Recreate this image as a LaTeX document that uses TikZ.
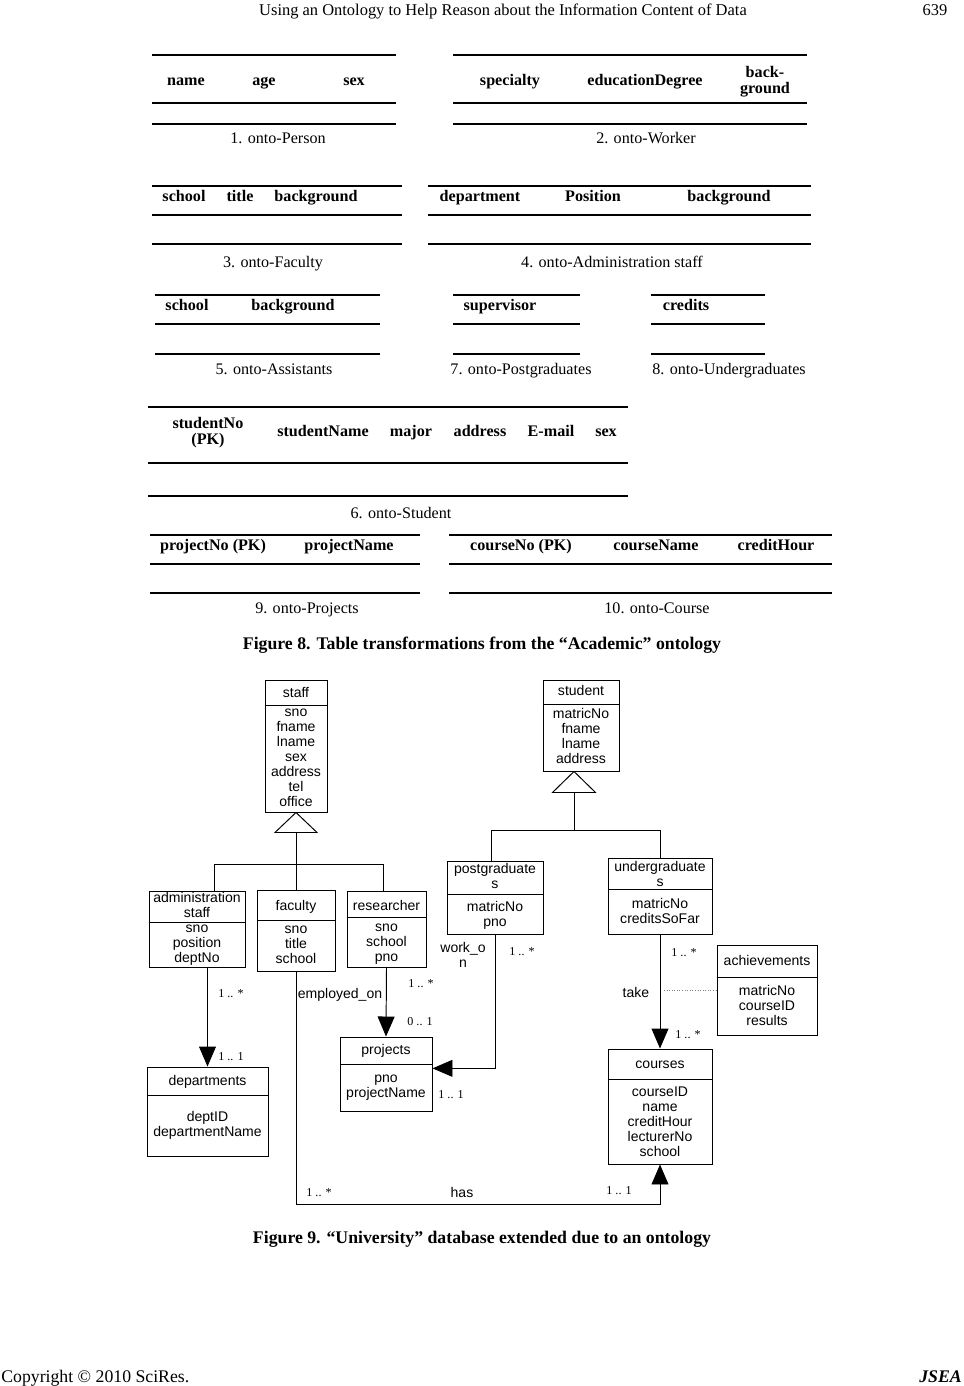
\documentclass[tikz,border=0pt]{standalone}
\usepackage{fontspec}
\setmainfont{Liberation Serif}
\setsansfont{Liberation Sans}
\usetikzlibrary{arrows.meta,positioning}

\tikzset{
  rule thick/.style={line width=1.5pt},
  rule mid/.style={line width=1pt},
  rule thin/.style={line width=0.7pt},
  struts/.style={inner sep=0pt, yshift=-1.5pt, execute at begin node=\strut, execute at end node=\strut},
  th/.style={struts, font=\fontsize{10}{10.5}\selectfont\bfseries, align=center},
  tcap/.style={struts, font=\fontsize{10}{11}\selectfont},
  figcap/.style={struts, font=\fontsize{11}{12}\selectfont\bfseries},
  runhead/.style={struts, font=\fontsize{10.2}{11}\selectfont},
  cls/.style 2 args={draw, line width=0.6pt, minimum width=#1*0.62pt, minimum height=#2*0.62pt, inner sep=0pt},
  ctext/.style={struts, font=\sffamily\fontsize{8.7}{9.3}\selectfont, align=center},
  mult/.style={struts, font=\fontsize{7.5}{8}\selectfont},
  assoc/.style={line width=0.6pt, -{Triangle[length=12.4pt,width=10.5pt]}},
}

\begin{document}
\begin{tikzpicture}[x=0.62pt,y=-0.62pt]
\fill[white] (0,0) rectangle (964,1386);
\useasboundingbox (0,0) rectangle (964,1386);

% running head
\node[runhead] (rh) at (503,10) {Using an Ontology to Help Reason about the Information Content of Data};
\node[runhead] (pgno) at (935,10) {639};

% ---- Figure 8: tables ----
% 1. onto-Person
\draw[rule thick] (152,55) -- (396,55);
\draw[rule thin] (152,103) -- (396,103);
\draw[rule thick] (152,124) -- (396,124);
\foreach \x/\t [count=\i] in {186/name,264/age,354/sex}
  \node[th] (pe\i) at (\x,80) {\t};
\node[tcap] (cap1) at (278,138) {1. onto-Person};

% 2. onto-Worker
\draw[rule thick] (453,55) -- (807,55);
\draw[rule thin] (453,103) -- (807,103);
\draw[rule thick] (453,124) -- (807,124);
\foreach \x/\t [count=\i] in {510/specialty,645/educationDegree,765/{back-\\ground}}
  \node[th] (wo\i) at (\x,80) {\t};
\node[tcap] (cap2) at (646,138) {2. onto-Worker};

% 3. onto-Faculty
\draw[rule thick] (152,186) -- (402,186);
\draw[rule thin] (152,215) -- (402,215);
\draw[rule mid] (152,244) -- (402,244);
\foreach \x/\t [count=\i] in {184/school,240/title,316/background}
  \node[th] (fa\i) at (\x,196) {\t};
\node[tcap] (cap3) at (273,262) {3. onto-Faculty};

% 4. onto-Administration staff
\draw[rule thick] (428,186) -- (811,186);
\draw[rule thin] (428,215) -- (811,215);
\draw[rule mid] (428,244) -- (811,244);
\foreach \x/\t [count=\i] in {480/department,593/Position,729/background}
  \node[th] (ad\i) at (\x,196) {\t};
\node[tcap] (cap4) at (612,262) {4. onto-Administration staff};

% 5. onto-Assistants
\draw[rule thin] (155,295) -- (380,295);
\draw[rule thin] (155,324) -- (380,324);
\draw[rule thick] (155,354) -- (380,354);
\foreach \x/\t [count=\i] in {187/school,293/background}
  \node[th] (as\i) at (\x,305) {\t};
\node[tcap] (cap5) at (274,369) {5. onto-Assistants};

% 7. onto-Postgraduates
\draw[rule thin] (453,295) -- (580,295);
\draw[rule thin] (453,324) -- (580,324);
\draw[rule thick] (453,354) -- (580,354);
\node[th] (po1) at (500,305) {supervisor};
\node[tcap] (cap7) at (521,369) {7. onto-Postgraduates};

% 8. onto-Undergraduates
\draw[rule thin] (651,295) -- (765,295);
\draw[rule thin] (651,324) -- (765,324);
\draw[rule thick] (651,354) -- (765,354);
\node[th] (un1) at (686,305) {credits};
\node[tcap] (cap8) at (729,369) {8. onto-Undergraduates};

% 6. onto-Student
\draw[rule mid] (148,407) -- (628,407);
\draw[rule mid] (148,463) -- (628,463);
\draw[rule mid] (148,496) -- (628,496);
\foreach \x/\t [count=\i] in {208/{studentNo\\(PK)},323/studentName,411/major,480/address,551/E-mail,606/sex}
  \node[th] (st\i) at (\x,431) {\t};
\node[tcap] (cap6) at (401,513) {6. onto-Student};

% 9. onto-Projects
\draw[rule mid] (150,535) -- (420,535);
\draw[rule mid] (150,564) -- (420,564);
\draw[rule mid] (150,593) -- (420,593);
\foreach \x/\t [count=\i] in {213/{projectNo (PK)},349/projectName}
  \node[th] (pr\i) at (\x,545) {\t};
\node[tcap] (cap9) at (307,608) {9. onto-Projects};

% 10. onto-Course
\draw[rule mid] (449,535) -- (832,535);
\draw[rule mid] (449,564) -- (832,564);
\draw[rule mid] (449,593) -- (832,593);
\foreach \x/\t [count=\i] in {521/{courseNo (PK)},656/courseName,776/creditHour}
  \node[th] (co\i) at (\x,545) {\t};
\node[tcap] (cap10) at (657,608) {10. onto-Course};

\node[figcap] (fig8) at (482,643) {Figure 8. Table transformations from the “Academic” ontology};

% ---- Figure 9: classes ----
\node[cls={62}{132}] (staff) at (296,746) {};
\draw (staff.west |- 0,705) -- (staff.east |- 0,705);
\node[ctext] (staff-h) at (296,692) {staff};
\node[ctext] (staff-a) at (296,758) {sno\\fname\\lname\\sex\\address\\tel\\office};

\node[cls={96}{76}] (adm) at (197,929) {};
\draw (adm.west |- 0,922) -- (adm.east |- 0,922);
\node[ctext] (adm-h) at (197,905) {administration\\staff};
\node[ctext] (adm-a) at (197,944) {sno\\position\\deptNo};

\node[cls={78}{81}] (fac) at (296,930.5) {};
\draw (fac.west |- 0,920) -- (fac.east |- 0,920);
\node[ctext] (fac-h) at (296,905) {faculty};
\node[ctext] (fac-a) at (296,945) {sno\\title\\school};

\node[cls={79}{76}] (res) at (386.5,929) {};
\draw (res.west |- 0,917) -- (res.east |- 0,917);
\node[ctext] (res-h) at (386.5,905) {researcher};
\node[ctext] (res-a) at (386.5,942.5) {sno\\school\\pno};

\node[cls={121}{89}] (dep) at (207.5,1111.5) {};
\draw (dep.west |- 0,1095) -- (dep.east |- 0,1095);
\node[ctext] (dep-h) at (207.5,1080) {departments};
\node[ctext] (dep-a) at (207.5,1123.5) {deptID\\departmentName};

\node[cls={92}{74}] (prj) at (386,1074) {};
\draw (prj.west |- 0,1064) -- (prj.east |- 0,1064);
\node[ctext] (prj-h) at (386,1049) {projects};
\node[ctext] (prj-a) at (386,1086.5) {pno\\projectName};

\node[cls={76}{91}] (stu) at (581,725.5) {};
\draw (stu.west |- 0,704) -- (stu.east |- 0,704);
\node[ctext] (stu-h) at (581,690) {student};
\node[ctext] (stu-a) at (581,736) {matricNo\\fname\\lname\\address};

\node[cls={96}{73}] (pg) at (495,897.5) {};
\draw (pg.west |- 0,894) -- (pg.east |- 0,894);
\node[ctext] (pg-h) at (495,876) {postgraduate\\s};
\node[ctext] (pg-a) at (495,913.5) {matricNo\\pno};

\node[cls={104}{76}] (ug) at (660,896) {};
\draw (ug.west |- 0,889) -- (ug.east |- 0,889);
\node[ctext] (ug-h) at (660,873.5) {undergraduate\\s};
\node[ctext] (ug-a) at (660,910.5) {matricNo\\creditsSoFar};

\node[cls={100}{90}] (ach) at (767,990) {};
\draw (ach.west |- 0,977) -- (ach.east |- 0,977);
\node[ctext] (ach-h) at (767,960) {achievements};
\node[ctext] (ach-a) at (767,1005) {matricNo\\courseID\\results};

\node[cls={104}{115}] (crs) at (660,1106.5) {};
\draw (crs.west |- 0,1079) -- (crs.east |- 0,1079);
\node[ctext] (crs-h) at (660,1063) {courses};
\node[ctext] (crs-a) at (660,1121.5) {courseID\\name\\creditHour\\lecturerNo\\school};

% generalisations
\coordinate (sj) at (296,864);
\coordinate (sl) at (214,864);
\coordinate (sr) at (383,864);
\draw[line width=0.6pt, fill=white] (staff.south) -- ++(-21,20) -- ++(42,0) -- cycle;
\draw[line width=0.6pt] (staff.south) ++(0,20) -- (sj);
\draw[line width=0.6pt] (sl |- adm.north) -- (sl) -- (sr) -- (sr |- res.north);
\draw[line width=0.6pt] (sj) -- (fac.north);

\coordinate (tj) at (574,830);
\coordinate (tl) at (491,830);
\draw[line width=0.6pt, fill=white] (tj |- stu.south) -- ++(-21.5,21) -- ++(43,0) -- cycle;
\draw[line width=0.6pt] (tj |- stu.south) ++(0,21) -- (tj);
\draw[line width=0.6pt] (tl |- pg.north) -- (tl) -| (ug.north);

% associations
\coordinate (hb) at (660,1204);
\draw[assoc] (dep.north |- adm.south) -- (dep.north);
\draw[assoc] (res.south) -- (prj.north);
\draw[assoc] (pg.south) |- ([yshift=3.5pt]prj.east);
\draw[assoc] (ug.south) -- (crs.north);
\draw[assoc] (fac.south) |- (hb) -- (crs.south);
\coordinate (tk) at (664,990);
\draw[densely dotted, gray, line width=0.6pt] (tk) -- (ach.west);

% labels
\node[mult] (m1) at (231,992) {1 .. *};
\node[mult] (m2) at (231,1055) {1 .. 1};
\node[mult] (m3) at (421,982) {1 .. *};
\node[mult] (m4) at (420,1020) {0 .. 1};
\node[mult] (m5) at (451,1093) {1 .. 1};
\node[mult] (m6) at (522,950) {1 .. *};
\node[mult] (m7) at (684,951) {1 .. *};
\node[mult] (m8) at (688,1033) {1 .. *};
\node[mult] (m9) at (319,1191) {1 .. *};
\node[mult] (m10) at (619,1189) {1 .. 1};
\node[ctext] (emp) at (340,993) {employed\_on};
\node[ctext] (work) at (463,955) {work\_o\\n};
\node[ctext] (take) at (636,992) {take};
\node[ctext] (has) at (462,1192) {has};

\node[figcap] (fig9) at (482,1237) {Figure 9. “University” database extended due to an ontology};

% footer
\node[runhead, anchor=west, font=\fontsize{11}{12}\selectfont] (copy) at (1,1376) {Copyright © 2010 SciRes.};
\node[runhead, anchor=east, font=\fontsize{11}{12}\selectfont\bfseries\itshape] (jsea) at (962,1376) {JSEA};
\end{tikzpicture}
\end{document}
